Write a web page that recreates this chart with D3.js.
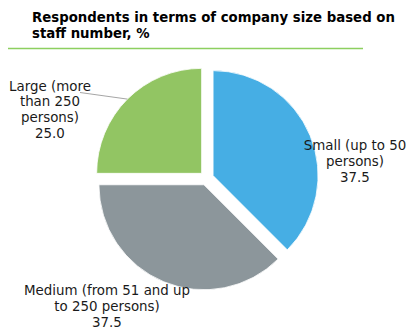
<!DOCTYPE html>
<html>
<head>
<meta charset="utf-8">
<script src="https://cdn.jsdelivr.net/npm/d3@7"></script>
<style>
  html, body { margin: 0; padding: 0; background: #fff; }
  svg { display: block; }
</style>
</head>
<body>
<svg id="chart" width="407" height="329"></svg>
<script>
// Company size categories and share of respondents (%)
const categories = ["Small", "Medium", "Large"];
const values = [37.5, 37.5, 25.0];
const labelLines = [
  ["Small (up to 50", "persons)"],
  ["Medium (from 51 and up", "to 250 persons)"],
  ["Large (more", "than 250", "persons)"]
];
const colors = ["#46AEE4", "#8C969B", "#92C563"];
const title = ["Respondents in terms of company size based on", "staff number, %"];

const svg = d3.select("#chart");

// Title
const t = svg.append("text")
  .attr("font-family", "DejaVu Sans, Verdana, sans-serif")
  .attr("font-weight", "bold")
  .attr("font-size", 13.3)
  .attr("fill", "#000");
title.forEach((s, i) => {
  t.append("tspan").attr("x", 32).attr("y", 22 + i * 16.3).text(s);
});

// Rule under the title
svg.append("line")
  .attr("x1", 8).attr("x2", 363)
  .attr("y1", 48.5).attr("y2", 48.5)
  .attr("stroke", "#8DCF5F").attr("stroke-width", 1.6);

// Pie
const cx = 206.6, cy = 178.3, R = 105, explode = 7;
const pie = d3.pie().sort(null).value(d => d)(values);
const arc = d3.arc().innerRadius(0).outerRadius(R);

const g = svg.append("g").attr("transform", `translate(${cx},${cy})`);

function offset(d) {
  const a = (d.startAngle + d.endAngle) / 2;
  return [Math.sin(a) * explode, -Math.cos(a) * explode];
}

g.selectAll("path.slice")
  .data(pie)
  .join("path")
  .attr("class", "slice")
  .attr("transform", d => { const o = offset(d); return `translate(${o[0]},${o[1]})`; })
  .attr("d", arc)
  .attr("fill", (d, i) => colors[i])
  .attr("stroke", "#fff")
  .attr("stroke-width", 0.8);

// Data labels: anchor = centre x, first baseline y
const labelAnchor = [
  { x: 355, y: 150 },
  { x: 107, y: 295 },
  { x: 50, y: 90.5 }
];
const lineH = 15.8;

pie.forEach((d, i) => {
  const lines = labelLines[i].concat([values[i].toFixed(1)]);
  const txt = svg.append("text")
    .attr("text-anchor", "middle")
    .attr("font-family", "DejaVu Sans, Verdana, sans-serif")
    .attr("font-size", 13.4)
    .attr("fill", "#1a1a1a");
  lines.forEach((s, j) => {
    txt.append("tspan")
      .attr("x", labelAnchor[i].x)
      .attr("y", labelAnchor[i].y + j * lineH)
      .text(s);
  });
});

// Leader line for the Large slice, ending on the slice's outer edge
{
  const d = pie[2];
  const a = (d.startAngle + d.endAngle) / 2;
  const o = offset(d);
  const ex = cx + o[0] + Math.sin(a) * R;
  const ey = cy + o[1] - Math.cos(a) * R;
  svg.append("line")
    .attr("x1", 80).attr("y1", 92.5)
    .attr("x2", ex).attr("y2", ey)
    .attr("stroke", "#A6A6A6").attr("stroke-width", 1);
}
</script>
</body>
</html>
